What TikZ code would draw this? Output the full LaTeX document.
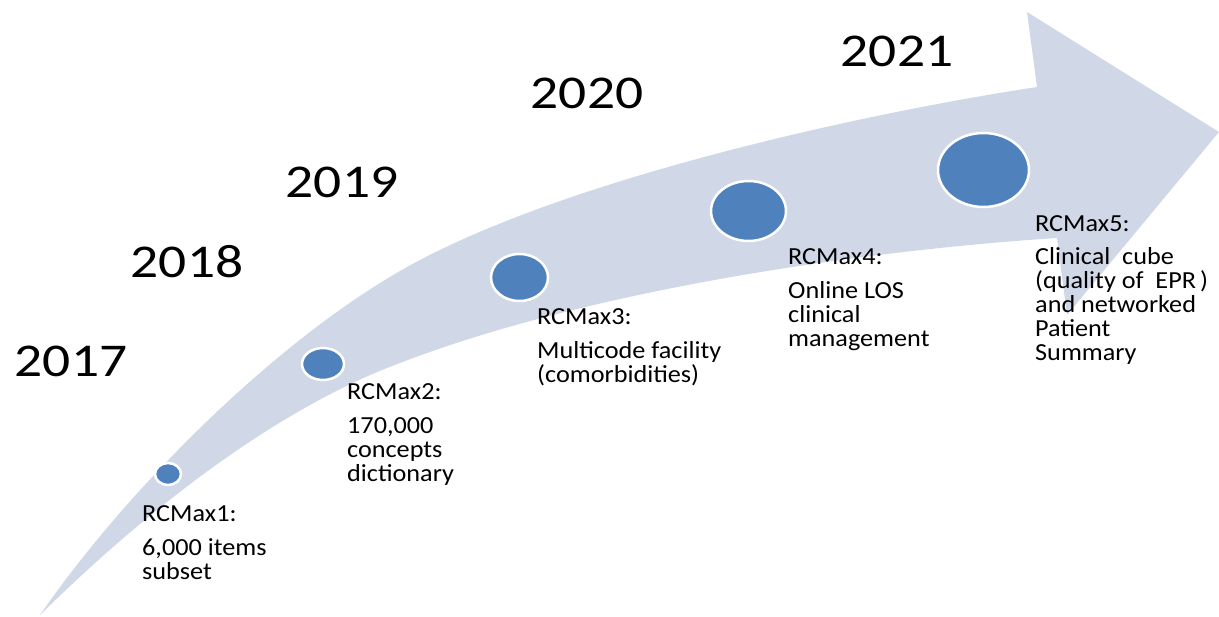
\documentclass[tikz,border=0pt]{standalone}
\usepackage{fontspec}
\setmainfont{Carlito}[FakeStretch=1.07]
\newfontfamily\yearfont{Carlito}[FakeStretch=1.18]
\usetikzlibrary{shapes.geometric}
\definecolor{bandblue}{HTML}{D0D8E8}
\definecolor{dotblue}{HTML}{4F81BD}

\begin{document}
\begin{tikzpicture}[x=1pt,y=-1pt,every node/.style={inner sep=0pt},
    year/.style={font=\yearfont\fontsize{47}{47}\selectfont,anchor=base},
    dot/.style={ellipse,draw=white,line width=2.5pt,fill=dotblue},
    lbl/.style={font=\fontsize{24.5}{24}\selectfont,align=left,anchor=north west}]
    \useasboundingbox (0,0) rectangle (1219,617);
    % curved arrow
    \fill[bandblue] (40,615) .. controls (125,492) and (270,346) .. (400,271)
      .. controls (556,181) and (859,114) .. (1037,87)
      -- (1027,12) -- (1219,132) -- (1067,315) -- (1057,238)
      .. controls (857,251) and (587,291) .. (400,363)
      .. controls (300,400) and (175,482) .. (40,615) -- cycle;
    % years
    \node[year] (y17) at (71,377) {2017};
    \node[year] (y18) at (187,278) {2018};
    \node[year] (y19) at (342,198) {2019};
    \node[year] (y20) at (587,109) {2020};
    \node[year] (y21) at (897,67) {2021};
    % milestones
    \node[dot,minimum width=26,minimum height=22] (c1) at (168,474) {};
    \node[dot,minimum width=42,minimum height=32] (c2) at (323,364) {};
    \node[dot,minimum width=57,minimum height=47] (c3) at (519.5,277.5) {};
    \node[dot,minimum width=75,minimum height=60] (c4) at (748.5,211) {};
    \node[dot,minimum width=91,minimum height=74] (c5) at (983.5,170) {};
    % descriptions
    \node[lbl] (l1) at (142,505) {RCMax1:\\[10pt]6,000 items\\subset};
    \node[lbl] (l2) at (347,383) {RCMax2:\\[10pt]170,000\\concepts\\dictionary};
    \node[lbl] (l3) at (537,308) {RCMax3:\\[10pt]Multicode facility\\(comorbidities)};
    \node[lbl] (l4) at (788,248) {RCMax4:\\[10pt]Online LOS\\clinical\\management};
    \node[lbl] (l5) at (1035,215) {RCMax5:\\[9pt]Clinical\ \ cube\\(quality of\ \ EPR\,)\\and networked\\Patient\\Summary};
\end{tikzpicture}
\end{document}
